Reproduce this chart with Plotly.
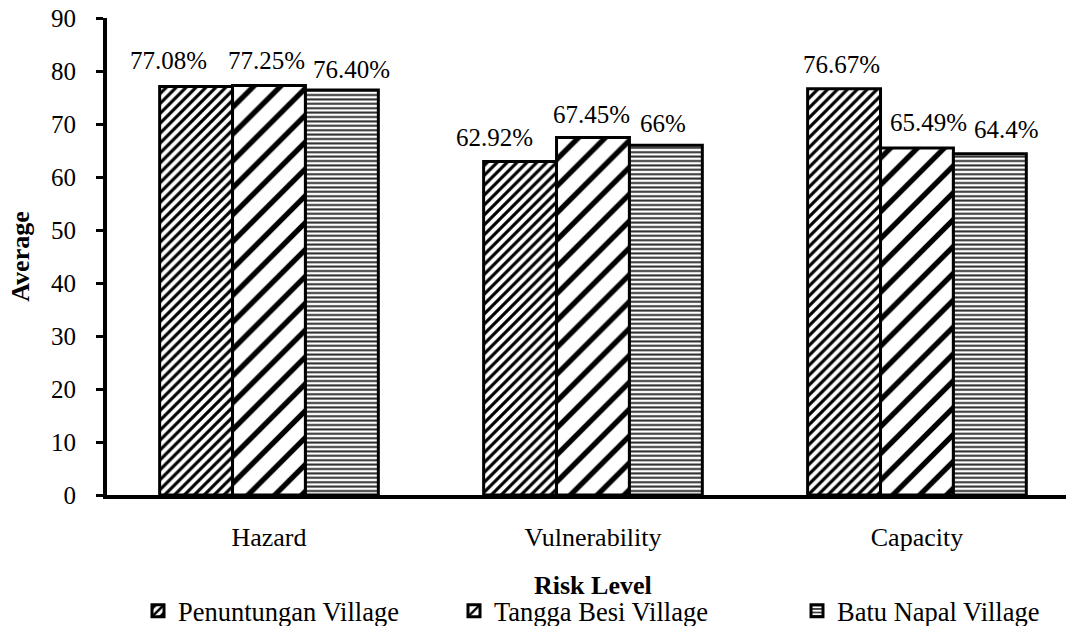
import plotly.graph_objects as go

# Risk components and the average score for each village
categories = ["Hazard", "Vulnerability", "Capacity"]
villages = ["Penuntungan Village", "Tangga Besi Village", "Batu Napal Village"]
penuntungan = [77.08, 62.92, 76.67]
tangga_besi = [77.25, 67.45, 65.49]
batu_napal = [76.40, 66.00, 64.40]
value_labels = [
    ["77.08%", "62.92%", "76.67%"],
    ["77.25%", "67.45%", "65.49%"],
    ["76.40%", "66%", "64.4%"],
]

y_ticks = [0, 10, 20, 30, 40, 50, 60, 70, 80, 90]

series = [penuntungan, tangga_besi, batu_napal]

# Fill pattern per village: (shape, size, solidity, colour)
patterns = [
    ("/", 7, 0.45, "black"),
    ("/", 19, 0.28, "black"),
    ("-", 4.4, 0.45, "#2a2a2a"),
]

# Pixel nudges for the value labels (per village, per category)
label_dx = [[-28, -26, -3], [-2, -1, 12], [10, -3, 17]]
label_dy = [[26, 24, 24], [25, 23, 25], [21, 22, 24]]

FONT = "Liberation Serif"
W, H = 1066, 626
ML, MR, MT, MB = 107, 0, 18, 131
BARGAP = 0.325
X_RANGE = [-0.5, 2.46]

fig = go.Figure()
legend_ids = ["legend", "legend2", "legend3"]
for k, (name, vals) in enumerate(zip(villages, series)):
    shape, size, sol, col = patterns[k]
    fig.add_trace(go.Bar(
        name=name,
        x=categories,
        y=vals,
        legend=legend_ids[k],
        marker=dict(
            color="white",
            line=dict(color="black", width=3),
            pattern=dict(shape=shape, size=size, solidity=sol,
                         fgcolor=col, bgcolor="white", fgopacity=1,
                         fillmode="replace"),
        ),
        hoverinfo="x+y+name",
    ))

# Value labels above each bar
plot_w = W - ML - MR
unit_px = plot_w / (X_RANGE[1] - X_RANGE[0])
bar_px = unit_px * (1 - BARGAP) / 3
for k, vals in enumerate(series):
    for j, cat in enumerate(categories):
        fig.add_annotation(
            x=cat, y=vals[j], xref="x", yref="y",
            text=value_labels[k][j], showarrow=False,
            xanchor="center", yanchor="middle",
            xshift=(k - 1) * bar_px + label_dx[k][j],
            yshift=label_dy[k][j],
            font=dict(family=FONT, size=25, color="black"),
        )

# Horizontal axis title, centred under the middle category
TITLE_Y_PX = 585
fig.add_annotation(
    x=categories[1], y=(H - MB - TITLE_Y_PX) / (H - MT - MB),
    xref="x", yref="paper",
    yanchor="middle", xanchor="center", showarrow=False,
    text="<b>Risk Level</b>",
    font=dict(family=FONT, size=26, color="black"),
)

# One legend box per village so each entry sits at its own spot
legend_common = dict(
    orientation="h", xref="container", yref="container",
    yanchor="middle", xanchor="left",
    font=dict(family=FONT, size=26.5, color="black"),
    bgcolor="rgba(0,0,0,0)", itemwidth=30,
)
legend_x = [138, 454, 797]
layout_legends = {}
for lid, lx in zip(legend_ids, legend_x):
    layout_legends[lid] = dict(legend_common, x=lx / W, y=1 - 611 / H)

fig.update_layout(
    width=W, height=H,
    margin=dict(l=ML, r=MR, t=MT, b=MB, pad=0),
    paper_bgcolor="white", plot_bgcolor="white",
    barmode="group", bargap=BARGAP, bargroupgap=0,
    showlegend=True,
    font=dict(family=FONT, color="black"),
    xaxis=dict(
        range=X_RANGE, showgrid=False, zeroline=False, automargin=False,
        showline=True, linecolor="black", linewidth=4,
        ticks="", ticklabelstandoff=16,
        tickfont=dict(family=FONT, size=26, color="black"),
    ),
    yaxis=dict(
        range=[0, 90], tickvals=y_ticks, showgrid=False, zeroline=False,
        automargin=False,
        showline=True, linecolor="black", linewidth=4,
        ticks="outside", ticklen=7, tickwidth=3, tickcolor="black",
        ticklabelstandoff=15,
        tickfont=dict(family=FONT, size=25, color="black"),
        title=dict(text="<b>Average</b>", standoff=15,
                   font=dict(family=FONT, size=26, color="black")),
    ),
    **layout_legends,
)

fig.write_html("out.html")
